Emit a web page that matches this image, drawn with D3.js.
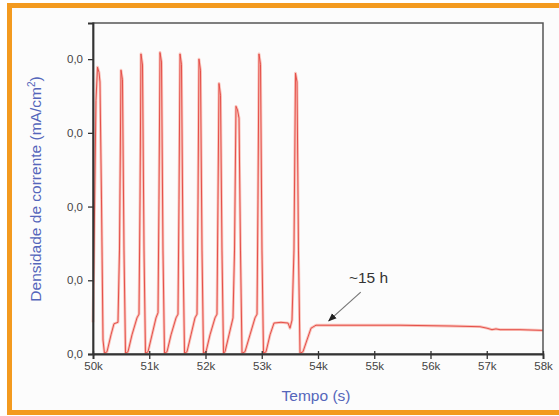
<!DOCTYPE html>
<html>
<head>
<meta charset="utf-8">
<script src="https://cdn.jsdelivr.net/npm/d3@7"></script>
<style>
  body { margin: 0; background: #fff; }
  svg { display: block; font-family: "Liberation Sans", Arial, sans-serif; }
</style>
</head>
<body>
<svg id="chart" width="559" height="416"></svg>
<script>
"use strict";

// tempo (s)
let tempo = [
  50000, 50018, 50053, 50080, 50107, 50124, 50151, 50178, 50204,
  50249, 50320, 50373, 50444, 50471, 50498, 50524, 50551, 50578,
  50622, 50693, 50782, 50818, 50836, 50853, 50880, 50907, 50933,
  50978, 51049, 51120, 51156, 51173, 51191, 51218, 51244, 51271,
  51316, 51387, 51476, 51511, 51529, 51547, 51573, 51600, 51627,
  51671, 51742, 51813, 51849, 51867, 51884, 51911, 51938, 51964,
  52009, 52080, 52169, 52204, 52222, 52240, 52267, 52293, 52320,
  52347, 52418, 52489, 52516, 52542, 52569, 52596, 52622, 52649,
  52702, 52791, 52880, 52916, 52933, 52951, 52978, 53004, 53031,
  53076, 53147, 53218, 53342, 53467, 53502, 53538, 53573, 53600, 53627, 53653, 53680,
  53733, 53804, 53876, 53964, 54569, 55458, 56347, 56880, 57004, 57093, 57164, 57236, 57591, 58000
];

// densidade de corrente
let corrente = [
  0.43, 1.41, 3.44, 3.89, 3.82, 3.69, 2.09, 0.19, 0.01,
  0.03, 0.26, 0.41, 0.43, 1.41, 3.85, 3.72, 1.41, 0.01,
  0.03, 0.26, 0.49, 0.54, 2.09, 4.07, 3.92, 1.41, 0.01,
  0.03, 0.26, 0.49, 0.56, 2.09, 4.09, 3.96, 1.41, 0.01,
  0.03, 0.26, 0.49, 0.54, 2.09, 4.07, 3.93, 1.41, 0.01,
  0.03, 0.26, 0.49, 0.54, 2.09, 4.00, 3.85, 1.41, 0.01,
  0.03, 0.26, 0.49, 0.54, 2.09, 3.67, 3.51, 1.41, 0.01,
  0.03, 0.26, 0.49, 1.41, 3.36, 3.31, 3.20, 1.41, 0.01,
  0.03, 0.26, 0.49, 0.54, 2.09, 4.07, 3.93, 1.41, 0.01,
  0.03, 0.26, 0.42, 0.43, 0.42, 0.35, 0.46, 1.41, 3.81, 3.69, 1.41, 0.01,
  0.03, 0.19, 0.35, 0.39, 0.39, 0.39, 0.38, 0.37, 0.35, 0.33, 0.34, 0.33, 0.33, 0.32
];

let xTicks = [50000, 51000, 52000, 53000, 54000, 55000, 56000, 57000, 58000];
let xTickLabels = ["50k", "51k", "52k", "53k", "54k", "55k", "56k", "57k", "58k"];
let yTicks = [0, 1, 2, 3, 4];
let yTickLabels = ["0,0", "0,0", "0,0", "0,0", "0,0"];

let svg = d3.select("#chart");

// moldura laranja
svg.append("rect")
  .attr("x", 9.5).attr("y", 5.5)
  .attr("width", 560).attr("height", 407)
  .attr("fill", "#fcfcfc")
  .attr("stroke", "#f39a1f")
  .attr("stroke-width", 5);

let plotLeft = 93, plotTop = 23, plotRight = 543, plotBottom = 354;

let x = d3.scaleLinear().domain([50000, 58000]).range([plotLeft, plotRight]);
let y = d3.scaleLinear().domain([0, 4.49]).range([plotBottom, plotTop]);

let pts = tempo.map((t, i) => [t, corrente[i]]);
let line = d3.line().x(d => x(d[0])).y(d => y(d[1]));

let g = svg.append("g");

g.append("path").datum(pts)
  .attr("d", line)
  .attr("fill", "none")
  .attr("stroke", "#f9c3bb")
  .attr("stroke-width", 2.8)
  .attr("stroke-linejoin", "round");

g.append("path").datum(pts)
  .attr("d", line)
  .attr("fill", "none")
  .attr("stroke", "#e5504a")
  .attr("stroke-width", 1)
  .attr("stroke-linejoin", "round");

// caixa
svg.append("rect")
  .attr("x", plotLeft).attr("y", plotTop)
  .attr("width", plotRight - plotLeft).attr("height", plotBottom - plotTop)
  .attr("fill", "none")
  .attr("stroke", "#555")
  .attr("stroke-width", 1.5);

let xAxis = svg.append("g")
  .attr("transform", `translate(0,${plotBottom})`)
  .call(d3.axisBottom(x).tickValues(xTicks)
    .tickFormat((d, i) => xTickLabels[i])
    .tickSize(5).tickPadding(3));

let yAxis = svg.append("g")
  .attr("transform", `translate(${plotLeft},0)`)
  .call(d3.axisLeft(y).tickValues(yTicks)
    .tickFormat((d, i) => yTickLabels[i])
    .tickSize(5).tickPadding(5));

[xAxis, yAxis].forEach(a => {
  a.select(".domain").attr("stroke", "#333").attr("stroke-width", 1.8);
  a.selectAll(".tick line").attr("stroke", "#333").attr("stroke-width", 1.3);
  a.selectAll(".tick text").attr("fill", "#444").style("font-size", "11.5px");
});

// pequenos ticks para dentro no eixo x
xAxis.selectAll(".tick").append("line")
  .attr("y1", 0).attr("y2", -3)
  .attr("stroke", "#333").attr("stroke-width", 1.3);

svg.append("text")
  .attr("x", 316).attr("y", 401)
  .attr("text-anchor", "middle")
  .attr("fill", "#5566bb")
  .style("font-size", "15.5px")
  .text("Tempo (s)");

svg.append("text")
  .attr("transform", "translate(41,189) rotate(-90)")
  .attr("text-anchor", "middle")
  .attr("fill", "#5566bb")
  .style("font-size", "15.5px")
  .html("Densidade de corrente (mA/cm<tspan dy='-6' style='font-size:10px'>2</tspan><tspan dy='6'>)</tspan>");

// anotação ~15 h
svg.append("defs").append("marker")
  .attr("id", "head")
  .attr("viewBox", "0 0 10 10")
  .attr("refX", 9).attr("refY", 5)
  .attr("markerWidth", 7).attr("markerHeight", 7)
  .attr("orient", "auto")
  .append("path").attr("d", "M0,1 L10,5 L0,9 Z").attr("fill", "#222");

svg.append("line")
  .attr("x1", x(54760)).attr("y1", y(0.84))
  .attr("x2", x(54190)).attr("y2", y(0.45))
  .attr("stroke", "#777")
  .attr("stroke-width", 1.2)
  .attr("marker-end", "url(#head)");

svg.append("text")
  .attr("x", x(54550)).attr("y", y(0.96))
  .attr("fill", "#333")
  .style("font-size", "15.5px")
  .text("~15 h");
</script>
</body>
</html>
